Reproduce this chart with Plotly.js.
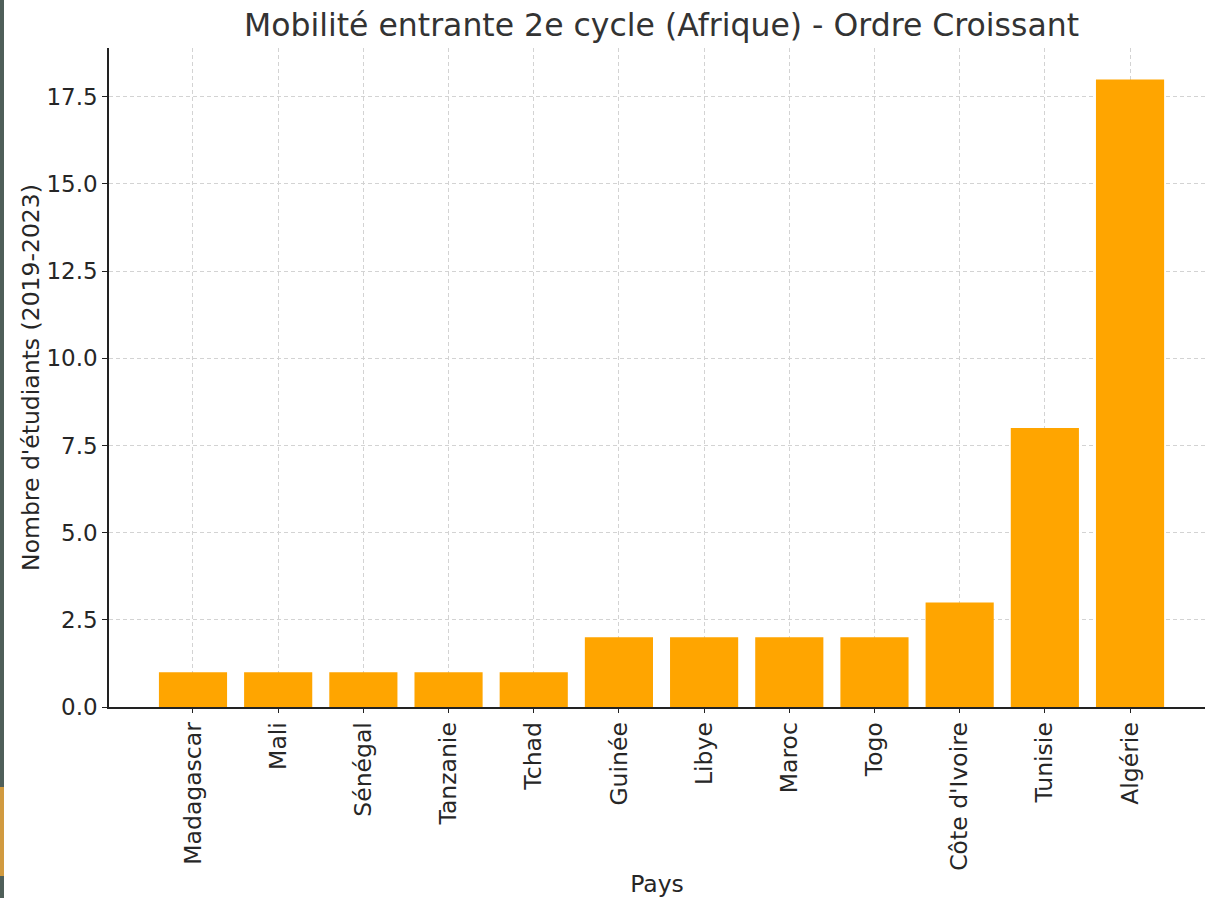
<!DOCTYPE html>
<html>
<head>
<meta charset="utf-8">
<script src="https://cdn.plot.ly/plotly-3.0.1.min.js"></script>
<style>
html,body{margin:0;padding:0;background:#fff;}
#chart{width:1205px;height:898px;position:absolute;left:0;top:0;}
#strip{position:absolute;left:0;top:0;width:4px;height:898px;background:#4f5f59;z-index:5;}
#patch{position:absolute;left:0;top:787px;width:4px;height:89px;background:#d19a3f;z-index:6;}
</style>
</head>
<body>
<div id="chart"></div>
<div id="strip"></div>
<div id="patch"></div>
<script>
const countries = ["Madagascar","Mali","Sénégal","Tanzanie","Tchad","Guinée","Libye","Maroc","Togo","Côte d'Ivoire","Tunisie","Algérie"];
const students = [1,1,1,1,1,2,2,2,2,3,8,18];
const yTicks = [0,2.5,5,7.5,10,12.5,15,17.5];
const yTickLabels = ["0.0","2.5","5.0","7.5","10.0","12.5","15.0","17.5"];

const font = "DejaVu Sans, Verdana, sans-serif";
Plotly.newPlot("chart", [{
  type: "bar",
  x: countries,
  y: students,
  width: 0.8,
  marker: {color: "#FFA500"},
  hoverinfo: "x+y"
}], {
  width: 1205, height: 898,
  margin: {l: 109, r: 0, t: 48, b: 191},
  paper_bgcolor: "#fff", plot_bgcolor: "#fff",
  font: {family: font, color: "#262626", size: 23},
  title: {text: "Mobilité entrante 2e cycle (Afrique) - Ordre Croissant",
          font: {family: font, size: 31.5, color: "#333"}, x: 0.549, xanchor: "center", y: 0.972, yanchor: "middle"},
  xaxis: {
    type: "category",
    range: [-0.986, 11.88],
    tickangle: -90,
    showline: true, linecolor: "#222", linewidth: 1.5,
    ticks: "outside", ticklen: 4, tickcolor: "#222",
    showgrid: true, gridcolor: "#d3d3d3", griddash: "4px,3px", gridwidth: 1,
    tickfont: {size: 23.5, family: font, color: "#262626"},
    title: {text: "Pays", font: {size: 23.5, family: font, color: "#262626"}, standoff: 8},
    zeroline: false
  },
  yaxis: {
    range: [0, 18.9],
    tickvals: yTicks, ticktext: yTickLabels,
    showline: true, linecolor: "#222", linewidth: 1.5,
    ticks: "outside", ticklen: 5, tickcolor: "#222",
    showgrid: true, gridcolor: "#d3d3d3", griddash: "4px,3px", gridwidth: 1,
    tickfont: {size: 23, family: font, color: "#262626"},
    title: {text: "Nombre d'étudiants (2019-2023)", font: {size: 23.5, family: font, color: "#262626"}, standoff: 0},
    zeroline: false
  },
  showlegend: false,
  bargap: 0.2
}, {displayModeBar: false});
</script>
</body>
</html>
